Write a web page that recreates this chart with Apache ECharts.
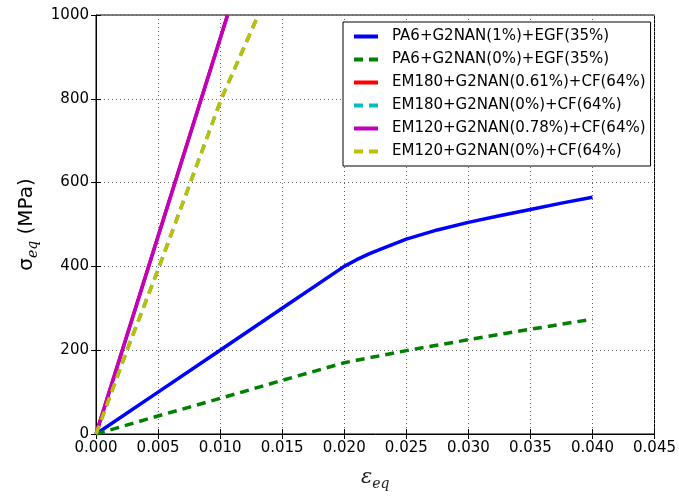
<!DOCTYPE html>
<html>
<head>
<meta charset="UTF-8">
<title>stress strain</title>
<script src="https://cdn.jsdelivr.net/npm/echarts@6/dist/echarts.min.js"></script>
<style>
  html, body { margin: 0; padding: 0; background: #fff; }
  #main { width: 679px; height: 496px; }
</style>
</head>
<body>
<div id="main"></div>
<script>
// data, [strain, stress MPa]
var names = [
  'PA6+G2NAN(1%)+EGF(35%)',
  'PA6+G2NAN(0%)+EGF(35%)',
  'EM180+G2NAN(0.61%)+CF(64%)',
  'EM180+G2NAN(0%)+CF(64%)',
  'EM120+G2NAN(0.78%)+CF(64%)',
  'EM120+G2NAN(0%)+CF(64%)'
];
var pa6_1 = [[0,0],[0.005,100],[0.010,200],[0.015,300],[0.020,400],[0.021,416],[0.022,430],[0.023,442],
  [0.025,465],[0.0275,487],[0.030,505],[0.0325,521],[0.035,536],[0.0375,551],[0.040,565]];
var pa6_0 = [[0,0],[0.005,43],[0.010,85],[0.015,128],[0.020,170],[0.021,176],[0.025,199],[0.030,225],
  [0.035,250],[0.040,274]];
// red and cyan lie underneath magenta / yellow in the picture
var em180_061 = [[0,0],[0.0053,500],[0.0106,1000]];
var em180_0 = [[0,0],[0.0025,200],[0.0051,400],[0.0076,600],[0.0101,800],[0.0130,995]];
var em120_078 = [[0,0],[0.0053,500],[0.0106,1000]];
var em120_0 = [[0,0],[0.0025,200],[0.0051,400],[0.0076,600],[0.0101,800],[0.0130,995]];

var colors = ['#0000ff', '#008000', '#ff0000', '#00bfbf', '#bf00bf', '#bfbf00'];
var dataSets = [pa6_1, pa6_0, em180_061, em180_0, em120_078, em120_0];
var dashed = [false, true, false, true, false, true];

var chart = echarts.init(document.getElementById('main'));

var series = names.map(function (n, i) {
  return {
    name: n,
    type: 'line',
    data: dataSets[i],
    symbol: 'none',
    smooth: false,
    clip: true,
    lineStyle: { color: colors[i], width: 3.5, type: dashed[i] ? [9, 6] : 'solid' },
    itemStyle: { color: colors[i] },
    z: 2 + i
  };
});

var option = {
  backgroundColor: '#fff',
  animation: false,
  textStyle: { fontFamily: 'DejaVu Sans' },
  grid: { left: 96, right: 23, top: 15, bottom: 51, show: true, borderColor: '#000', borderWidth: 1 },
  legend: {
    orient: 'vertical',
    left: 343, top: 22,
    backgroundColor: '#fff',
    borderColor: '#000', borderWidth: 1,
    padding: [7, 5, 7, 9],
    itemWidth: 24, itemHeight: 10, itemGap: 8,
    itemStyle: { opacity: 0 },
    lineStyle: { width: 4 },
    textStyle: { fontSize: 15, color: '#000', fontFamily: 'DejaVu Sans', padding: [0, 0, 0, 9] },
    data: names
  },
  xAxis: [{
    type: 'value', min: 0, max: 0.045, interval: 0.005,
    name: '{e|ε}{s|eq}', nameLocation: 'middle', nameGap: 31,
    nameTextStyle: {
      rich: {
        e: { fontSize: 21, fontFamily: 'DejaVu Serif', fontStyle: 'italic', color: '#222' },
        s: { fontSize: 14, fontFamily: 'DejaVu Serif', fontStyle: 'italic', color: '#222', padding: [12, 0, 0, 0] }
      }
    },
    axisLine: { lineStyle: { color: '#000' } },
    axisTick: { inside: true, length: 5, lineStyle: { color: '#000' } },
    axisLabel: { fontSize: 15, color: '#000', margin: 7, formatter: function (v) { return v.toFixed(3); } },
    splitLine: { show: true, lineStyle: { color: '#666', type: [1, 3], width: 1 } }
  }, {
    type: 'value', position: 'top', min: 0, max: 0.045, interval: 0.005,
    axisLine: { show: false },
    axisTick: { inside: true, length: 5, lineStyle: { color: '#000' } },
    axisLabel: { show: false }, splitLine: { show: false }
  }],
  yAxis: [{
    type: 'value', min: 0, max: 1000, interval: 200,
    name: '{s|σ}{b|eq}{s| (MPa)}', nameLocation: 'middle', nameGap: 46, nameRotate: 90,
    nameTextStyle: {
      rich: {
        s: { fontSize: 20, color: '#000', fontFamily: 'DejaVu Sans' },
        b: { fontSize: 14, color: '#000', fontStyle: 'italic', fontFamily: 'DejaVu Serif', padding: [12, 0, 0, 0] }
      }
    },
    axisLine: { lineStyle: { color: '#000' } },
    axisTick: { inside: true, length: 5, lineStyle: { color: '#000' } },
    axisLabel: { fontSize: 15, color: '#000', margin: 7, formatter: function (v) { return String(v); } },
    splitLine: { show: true, lineStyle: { color: '#666', type: [1, 3], width: 1 } }
  }, {
    type: 'value', position: 'right', min: 0, max: 1000, interval: 200,
    axisLine: { show: false },
    axisTick: { inside: true, length: 5, lineStyle: { color: '#000' } },
    axisLabel: { show: false }, splitLine: { show: false }
  }],
  series: series
};

chart.setOption(option);
</script>
</body>
</html>
